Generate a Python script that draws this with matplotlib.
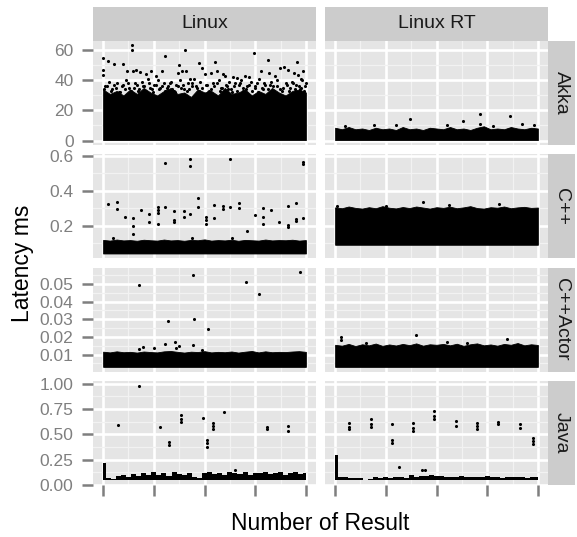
import numpy as np
import matplotlib
matplotlib.use("Agg")
import matplotlib.pyplot as plt

plt.rcParams['font.family'] = ['Liberation Sans', 'DejaVu Sans']

# Facets
cols = ["Linux", "Linux RT"]
rows = ["Akka", "C++", "C++Actor", "Java"]
n_results = 10000

# Y ticks per row
akka_ticks = [0, 20, 40, 60]
akka_labels = ["0", "20", "40", "60"]
cpp_ticks = [0.2, 0.4, 0.6]
cpp_labels = ["0.2", "0.4", "0.6"]
actor_ticks = [0.01, 0.02, 0.03, 0.04, 0.05]
actor_labels = ["0.01", "0.02", "0.03", "0.04", "0.05"]
java_ticks = [0.0, 0.25, 0.5, 0.75, 1.0]
java_labels = ["0.00", "0.25", "0.50", "0.75", "1.00"]

# Dense band of results: lower edge and upper edge (read across the run)
akka_linux_lo = 0.3
akka_linux_top = [34, 31, 33, 30, 34, 31, 35, 32, 30, 33, 35, 31, 32, 29, 34, 32,
                  33, 30, 35, 31, 32, 34, 30, 33, 31, 35, 32, 30, 33, 34, 32]
akka_rt_lo = 0.3
akka_rt_top = [8.5, 7.5, 9, 7.5, 8, 7, 8.5, 7.5, 8, 7, 9, 7.5, 8, 7, 8.5, 8,
               7.5, 9, 7.5, 8, 7, 8.5, 9.5, 7.5, 8, 7.5, 9, 8, 7.5, 8.5, 8]
cpp_linux_lo = 0.04
cpp_linux_top = [0.118, 0.114, 0.12, 0.115, 0.117, 0.113, 0.119, 0.116, 0.114, 0.12,
                 0.115, 0.117, 0.113, 0.118, 0.116, 0.121, 0.114, 0.117, 0.115, 0.119,
                 0.113, 0.118, 0.116, 0.114, 0.12, 0.115, 0.117, 0.116, 0.119, 0.114, 0.117]
cpp_rt_lo = 0.09
cpp_rt_top = [0.305, 0.30, 0.31, 0.302, 0.298, 0.306, 0.30, 0.312, 0.303, 0.299, 0.307,
              0.301, 0.31, 0.304, 0.298, 0.306, 0.302, 0.309, 0.30, 0.305, 0.312, 0.301,
              0.298, 0.306, 0.303, 0.31, 0.30, 0.305, 0.308, 0.302, 0.304]
actor_linux_lo = 0.003
actor_linux_top = [0.0116, 0.0112, 0.0118, 0.0113, 0.0115, 0.0111, 0.0117, 0.0114,
                   0.0112, 0.0118, 0.012, 0.0115, 0.0111, 0.0116, 0.0114, 0.0119,
                   0.0112, 0.0115, 0.0113, 0.0117, 0.0111, 0.0116, 0.012, 0.0112,
                   0.0118, 0.0113, 0.0115, 0.0114, 0.0117, 0.0119, 0.0115]
actor_rt_lo = 0.003
actor_rt_top = [0.0155, 0.015, 0.016, 0.0148, 0.0158, 0.0152, 0.0162, 0.0149, 0.0157,
                0.0151, 0.016, 0.0153, 0.0163, 0.015, 0.0158, 0.0155, 0.016, 0.0152,
                0.0161, 0.0149, 0.0158, 0.0163, 0.0152, 0.0157, 0.015, 0.016, 0.0155,
                0.0165, 0.0152, 0.0158, 0.0154]
java_linux_lo = 0.046
java_linux_top = [0.22, 0.07, 0.06, 0.09, 0.10, 0.08, 0.11, 0.09, 0.12, 0.10, 0.13,
                  0.10, 0.12, 0.09, 0.13, 0.11, 0.10, 0.12, 0.08, 0.07, 0.12, 0.13,
                  0.11, 0.12, 0.10, 0.13, 0.12, 0.11, 0.13, 0.10, 0.12, 0.12, 0.13,
                  0.11, 0.12, 0.13, 0.10, 0.12, 0.13, 0.11, 0.12]
java_rt_lo = 0.046
java_rt_top = [0.294, 0.08, 0.075, 0.07, 0.065, 0.07, 0.05, 0.06, 0.075, 0.07, 0.08,
               0.065, 0.075, 0.08, 0.07, 0.10, 0.075, 0.09, 0.085, 0.10, 0.09, 0.085,
               0.08, 0.075, 0.08, 0.085, 0.075, 0.08, 0.075, 0.08, 0.085, 0.075, 0.08,
               0.07, 0.075, 0.08, 0.075, 0.08, 0.07, 0.075, 0.08]

# Single results outside the band (result number, latency ms)
akka_linux_x = [0, 0, 0, 260, 520, 990, 1400, 1400, 1180, 1450, 1600, 1800, 2100, 2350,
                2600, 2900, 3070, 3730, 3700, 3900, 4100, 4060, 4300, 4740, 4900, 5000,
                5300, 5530, 5600, 5900, 6000, 6400, 6600, 7000, 7450, 7200, 7800, 8110,
                8200, 8500, 8700, 8900, 9100, 9580, 9400, 9600, 9880, 9750,
                100, 300, 450, 700, 850, 1000, 1150, 1300, 1550, 1700, 1900, 2000, 2200,
                2400, 2500, 2700, 2800, 3000, 3200, 3350, 3500, 3600, 3800, 4000, 4200,
                4400, 4500, 4650, 4800, 5100, 5200, 5400, 5700, 5800, 6100, 6200, 6300,
                6500, 6700, 6800, 6900, 7100, 7300, 7500, 7600, 7700, 7900, 8000, 8300,
                8400, 8600, 8800, 9000, 9200, 9300, 9500, 9700, 9800, 9950, 10000,
                50, 200, 380, 560, 640, 780, 920, 1080, 1220, 1380, 1500, 1650, 1780,
                1950, 2080, 2250, 2330, 2480, 2620, 2760, 2880, 3050, 3150, 3280, 3420,
                3550, 3680, 3860, 3950, 4120, 4250, 4380, 4560, 4720, 4880, 5050, 5150,
                5320, 5450, 5620, 5750, 5880, 6050, 6180, 6350, 6450, 6620, 6750, 6880,
                7050, 7180, 7350, 7480, 7650, 7820, 7950, 8120, 8250, 8450, 8560, 8720,
                8850, 9050, 9150, 9350, 9450, 9650, 9780, 9900]
akka_linux_y = [54.9, 46.7, 43.3, 52.7, 51.1, 51.1, 63.3, 60.4, 46, 46.5, 47, 45.5, 44, 46,
                43, 46, 56, 50, 45, 46.5, 46.5, 60, 41, 51.8, 48, 44, 45, 52.2, 46, 44, 43,
                42, 41.5, 43, 58.2, 42, 46, 53.8, 45, 43, 48, 49, 47, 52.2, 44.7, 43.5,
                46.2, 41,
                36, 39, 34, 38, 32, 37, 40, 35, 38, 33, 39, 36, 41, 34, 37, 40, 35, 38, 36,
                39, 33, 37, 40, 34, 38, 36, 41, 35, 39, 37, 33, 38, 40, 35, 36, 39, 34, 38,
                37, 40, 33, 36, 39, 35, 38, 41, 34, 37, 39, 36, 40, 33, 38, 35, 39, 37, 34,
                40, 36, 38,
                34, 36, 33, 37, 35, 32, 36, 34, 38, 33, 35, 37, 34, 36, 33, 38, 35, 32, 37,
                34, 36, 33, 35, 38, 34, 32, 36, 35, 37, 33, 34, 38, 36, 33, 35, 37, 32, 34,
                36, 38, 33, 35, 37, 34, 32, 36, 33, 38, 35, 34, 37, 33, 36, 32, 35, 38, 34,
                37, 33, 36, 34, 35, 37, 33, 38, 34, 36, 35, 33]
akka_rt_x = [1920, 3690, 6290, 7140, 7140, 8620, 9200, 500, 3000, 5500, 7800, 9800]
akka_rt_y = [10, 14.4, 12.9, 17.8, 10.7, 16, 11.1, 9.8, 10, 10.3, 9.9, 10.4]
cpp_linux_x = [260, 670, 670, 1080, 1490, 1490, 1490, 1870, 2280, 2280, 2690, 2690, 2690,
               2690, 3070, 3070, 3480, 3480, 3480, 4010, 4010, 4290, 4290, 4290, 4660,
               4660, 5070, 5070, 5070, 5480, 5480, 5900, 5900, 6270, 6270, 6680, 6680,
               7080, 7490, 7900, 7900, 7900, 8280, 8690, 9100, 9100, 9100, 9490, 9490,
               9490, 9870, 9870, 9870, 510, 4370, 6350]
cpp_linux_y = [0.325, 0.333, 0.296, 0.248, 0.243, 0.2, 0.152, 0.289, 0.267, 0.22, 0.306,
               0.29, 0.271, 0.21, 0.306, 0.561, 0.286, 0.233, 0.22, 0.286, 0.248, 0.583,
               0.54, 0.269, 0.358, 0.306, 0.248, 0.233, 0.212, 0.319, 0.243, 0.314, 0.295,
               0.308, 0.584, 0.331, 0.304, 0.169, 0.262, 0.30, 0.252, 0.21, 0.289, 0.22,
               0.31, 0.204, 0.194, 0.329, 0.238, 0.227, 0.563, 0.552, 0.243, 0.127, 0.129,
               0.127]
cpp_rt_x = [4320, 80, 8100, 2500, 5600]
cpp_rt_y = [0.333, 0.313, 0.325, 0.315, 0.316]
actor_linux_x = [4420, 9700, 1760, 7040, 7700, 3190, 4500, 5160, 3070, 3560, 3730, 4420,
                 1990, 1760, 2530, 3600, 4880]
actor_linux_y = [0.0553, 0.0566, 0.0492, 0.0511, 0.0444, 0.0289, 0.0302, 0.0245, 0.0162,
                 0.017, 0.0147, 0.0153, 0.0144, 0.0134, 0.0138, 0.0138, 0.0128]
actor_rt_x = [3980, 300, 300, 8460, 1500, 5500, 6500]
actor_rt_y = [0.0209, 0.0200, 0.0183, 0.0188, 0.0168, 0.017, 0.0166]
java_linux_x = [1760, 720, 2810, 3240, 3240, 3840, 3840, 3840, 4910, 5110, 5110, 5110,
                5430, 5430, 5430, 5960, 8060, 8060, 9130, 9130, 6500]
java_linux_y = [0.98, 0.588, 0.572, 0.425, 0.392, 0.686, 0.654, 0.621, 0.657, 0.444,
                0.412, 0.379, 0.614, 0.582, 0.549, 0.719, 0.575, 0.549, 0.582, 0.532, 0.15]
java_rt_x = [690, 690, 690, 1760, 1760, 1760, 2820, 2820, 2820, 3860, 3860, 3860, 4890,
             4890, 4890, 5960, 5960, 7010, 7010, 7010, 8050, 8050, 9110, 9110, 9740, 9740,
             9740, 3150, 4270, 4430]
java_rt_y = [0.614, 0.575, 0.549, 0.654, 0.605, 0.575, 0.605, 0.441, 0.412, 0.608, 0.565,
             0.532, 0.728, 0.68, 0.654, 0.63, 0.582, 0.614, 0.582, 0.556, 0.621, 0.598,
             0.598, 0.565, 0.467, 0.434, 0.402, 0.174, 0.15, 0.15]

panels = {
    ("Akka", "Linux"): (akka_linux_lo, akka_linux_top, akka_linux_x, akka_linux_y),
    ("Akka", "Linux RT"): (akka_rt_lo, akka_rt_top, akka_rt_x, akka_rt_y),
    ("C++", "Linux"): (cpp_linux_lo, cpp_linux_top, cpp_linux_x, cpp_linux_y),
    ("C++", "Linux RT"): (cpp_rt_lo, cpp_rt_top, cpp_rt_x, cpp_rt_y),
    ("C++Actor", "Linux"): (actor_linux_lo, actor_linux_top, actor_linux_x, actor_linux_y),
    ("C++Actor", "Linux RT"): (actor_rt_lo, actor_rt_top, actor_rt_x, actor_rt_y),
    ("Java", "Linux"): (java_linux_lo, java_linux_top, java_linux_x, java_linux_y),
    ("Java", "Linux RT"): (java_rt_lo, java_rt_top, java_rt_x, java_rt_y),
}
row_ticks = {
    "Akka": (akka_ticks, akka_labels),
    "C++": (cpp_ticks, cpp_labels),
    "C++Actor": (actor_ticks, actor_labels),
    "Java": (java_ticks, java_labels),
}

# Layout in pixels
W, H = 577, 537
col_px = [(93, 316), (325, 548)]
row_px = [(40.7, 144.8), (154.1, 258.2), (267.5, 371.6), (380.9, 485)]
strip_top = (7.3, 40.7)
strip_right = (548, 575)


def rect(x0, y0, x1, y1):
    return [x0 / W, 1 - y1 / H, (x1 - x0) / W, (y1 - y0) / H]


fig = plt.figure(figsize=(W / 100, H / 100), dpi=100)

grey_txt = "#7F7F7F"
xt = [0, 2500, 5000, 7500, 10000]
x_minor = [1250, 3750, 6250, 8750]
x_pad = 0.05 * n_results

for i, r in enumerate(rows):
    # shared y range for the row, 5% expansion
    lows, highs = [], []
    for c in cols:
        lo, top, px, py = panels[(r, c)]
        lows += [lo] + list(py)
        highs += list(top) + list(py)
    ymin, ymax = min(lows), max(highs)
    span = ymax - ymin
    ylim = (ymin - 0.05 * span, ymax + 0.05 * span)
    ticks, labels = row_ticks[r]
    step = ticks[1] - ticks[0]
    minor = [t + step / 2 for t in [ticks[0] - step] + ticks]
    minor = [m for m in minor if ylim[0] <= m <= ylim[1]]

    for j, c in enumerate(cols):
        lo, top, px, py = panels[(r, c)]
        ax = fig.add_axes(rect(col_px[j][0], row_px[i][0], col_px[j][1], row_px[i][1]))
        ax.set_facecolor("#E5E5E5")
        for s in ax.spines.values():
            s.set_visible(False)
        bx = np.linspace(0, n_results, len(top))
        if r == "Java":
            ax.fill_between(bx, lo, top, step="mid", color="black", lw=0)
        else:
            ax.fill_between(bx, lo, top, color="black", lw=0.6, edgecolor="black")
        ax.scatter(px, py, s=5, color="black", lw=0)
        ax.set_xlim(-x_pad, n_results + x_pad)
        ax.set_ylim(*ylim)
        ax.set_xticks(xt)
        ax.set_xticks(x_minor, minor=True)
        ax.set_yticks(ticks)
        ax.set_yticks(minor, minor=True)
        ax.grid(which="major", color="white", lw=1.9)
        ax.grid(which="minor", color="#F2F2F2", lw=0.9)
        ax.set_axisbelow(True)
        ax.tick_params(which="minor", length=0)
        ax.tick_params(which="major", direction="out", length=8, width=1.8,
                       color=grey_txt, labelcolor=grey_txt, labelsize=12.5, pad=6)
        if j == 0:
            ax.set_yticklabels(labels)
        else:
            ax.tick_params(axis="y", left=False, labelleft=False)
        if i == len(rows) - 1:
            ax.set_xticklabels([""] * len(xt))
        else:
            ax.tick_params(axis="x", bottom=False, labelbottom=False)

        if i == 0:
            sax = fig.add_axes(rect(col_px[j][0], strip_top[0], col_px[j][1], strip_top[1]))
            sax.set_facecolor("#CCCCCC")
            sax.set_xticks([])
            sax.set_yticks([])
            for s in sax.spines.values():
                s.set_visible(False)
            sax.text(0.5, 0.5, c, ha="center", va="center", fontsize=14,
                     color="#1A1A1A", transform=sax.transAxes)

    rax = fig.add_axes(rect(strip_right[0], row_px[i][0], strip_right[1], row_px[i][1]))
    rax.set_facecolor("#CCCCCC")
    rax.set_xticks([])
    rax.set_yticks([])
    for s in rax.spines.values():
        s.set_visible(False)
    rax.text(0.5, 0.5, r, ha="center", va="center", fontsize=14, rotation=-90,
             color="#1A1A1A", transform=rax.transAxes)

fig.text(320.5 / W, 1 - 524 / H, "Number of Result", ha="center", va="center", fontsize=16.5)
fig.text(23 / W, 1 - 263 / H, "Latency ms", ha="center", va="center", fontsize=16.5,
         rotation=90)

plt.savefig("out.png", dpi=100)
